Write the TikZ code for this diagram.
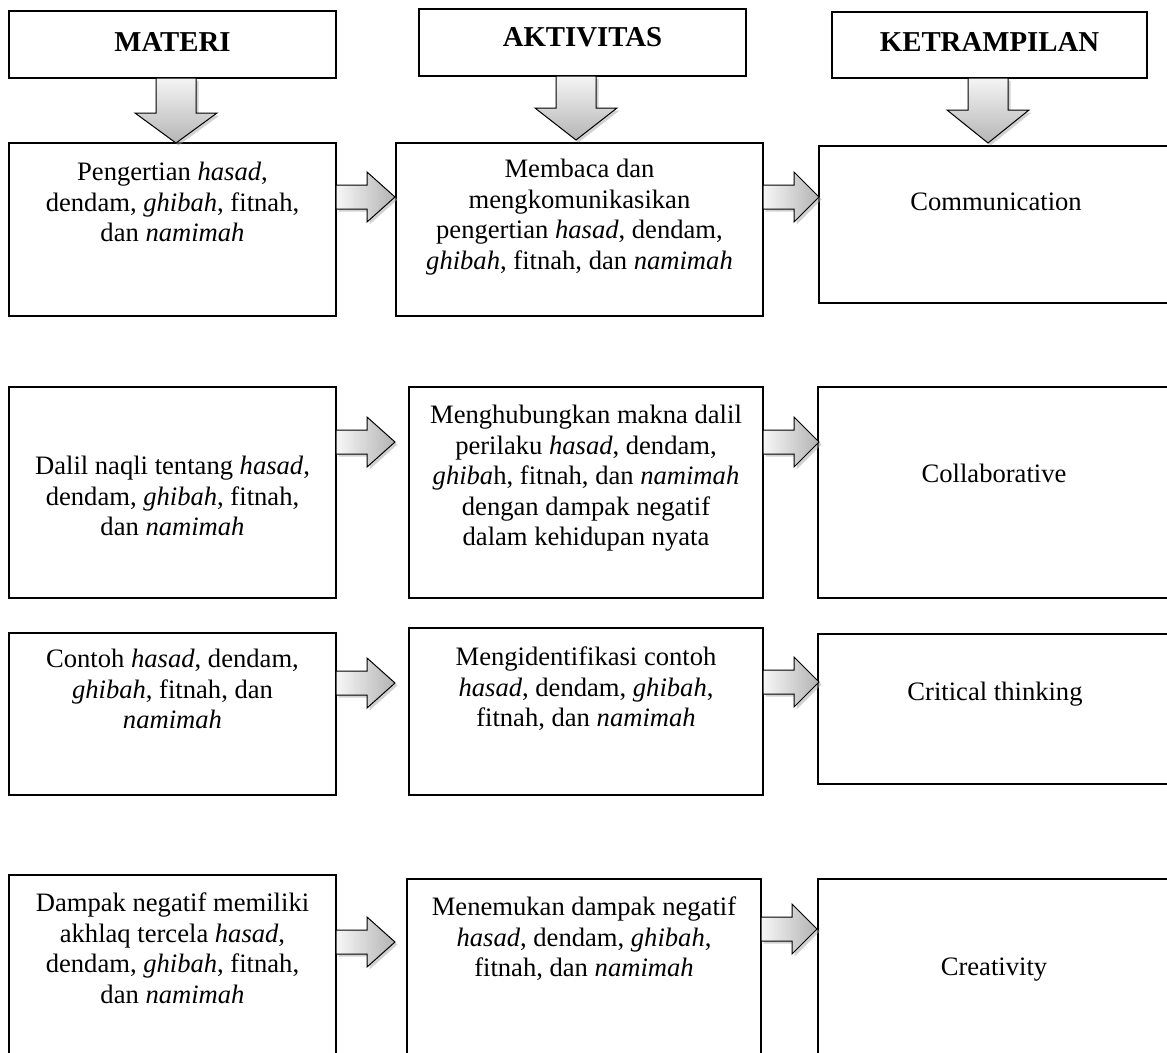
\documentclass[tikz,border=0pt]{standalone}
\usepackage{fontspec}
\setmainfont{Liberation Serif}
\usetikzlibrary{shadows}
\tikzset{
  frame/.style={draw=black, line width=1.8, inner sep=0, outer sep=0, fill=white},
  txt/.style={inner sep=0, align=center, font=\fontsize{26.6}{30.5}\selectfont},
  headtxt/.style={inner sep=0, font=\fontsize{28.8}{32}\selectfont\bfseries},
  harrow/.style={draw=black, line width=1, left color=gray!6, right color=gray!60,
    drop shadow={shadow xshift=2.5pt, shadow yshift=-2.5pt, fill=gray!70, opacity=.5}},
  varrow/.style={draw=black, line width=1, top color=gray!8, bottom color=gray!58,
    drop shadow={shadow xshift=2.5pt, shadow yshift=-2.5pt, fill=gray!70, opacity=.5}},
}
% box: name, x1, y1, x2, y2
\newcommand\bx[5]{\node[frame, minimum width={#4-#2}, minimum height={#5-#3}] (#1) at ({(#2+#4)/2},{(#3+#5)/2}) {};}
% text: name, box, top y, text
\newcommand\tx[4]{\node[txt, anchor=north] (#1) at (#2.center |- 0,#3) {#4};}
% right block arrow: from box, length to tip, y
\newcommand\rarr[3]{\path[harrow, shift={(#1.east |- 0,#3)}] (0,-12) -- (31,-12) -- (31,-25) -- (#2,0) -- (31,25) -- (31,12) -- (0,12) -- cycle;}
% down block arrow: from header, xshift, head start, tip
\newcommand\darr[4]{\path[varrow, shift={(#1.south)}, xshift=#2] (-20,0) -- (-20,#3) -- (-41,#3) -- (0,#4) -- (41,#3) -- (20,#3) -- (20,0) -- cycle;}
\begin{document}
\begin{tikzpicture}[x=1pt, y=-1pt]
\useasboundingbox (0,0) rectangle (1167,1052);
% headers
\bx{h1}{9}{11}{336}{78}
\bx{h2}{419}{9}{746}{76}
\bx{h3}{832}{12}{1147}{78}
\node[headtxt, anchor=north] (ht1) at (h1.center |- 0,32) {MATERI};
\node[headtxt, anchor=north] (ht2) at (h2.center |- 0,27) {AKTIVITAS};
\node[headtxt, anchor=north] (ht3) at (h3.center |- 0,32) {KETRAMPILAN};
% rows
\bx{r1a}{9}{143}{336}{316}
\bx{r1b}{396}{143}{763}{316}
\bx{r1c}{819}{146}{1173}{303}
\bx{r2a}{9}{387}{336}{598}
\bx{r2b}{409}{387}{763}{598}
\bx{r2c}{818}{387}{1173}{598}
\bx{r3a}{9}{633}{336}{795}
\bx{r3b}{409}{628}{763}{795}
\bx{r3c}{818}{634}{1173}{784}
\bx{r4a}{9}{875}{336}{1065}
\bx{r4b}{407}{879}{761}{1065}
\bx{r4c}{818}{879}{1173}{1065}
% texts
\tx{t1a}{r1a}{162}{Pengertian \textit{hasad},\\dendam, \textit{ghibah}, fitnah,\\dan \textit{namimah}}
\tx{t1b}{r1b}{159}{Membaca dan\\mengkomunikasikan\\pengertian \textit{hasad}, dendam,\\\textit{ghibah}, fitnah, dan \textit{namimah}}
\node[txt, anchor=north] (t1c) at (996,193) {Communication};
\tx{t2a}{r2a}{456}{Dalil naqli tentang \textit{hasad},\\dendam, \textit{ghibah}, fitnah,\\dan \textit{namimah}}
\tx{t2b}{r2b}{405}{Menghubungkan makna dalil\\perilaku \textit{hasad}, dendam,\\\textit{ghiba}h, fitnah, dan \textit{namimah}\\dengan dampak negatif\\dalam kehidupan nyata}
\node[txt, anchor=north] (t2c) at (994,464) {Collaborative};
\tx{t3a}{r3a}{649}{Contoh \textit{hasad}, dendam,\\\textit{ghibah}, fitnah, dan\\\textit{namimah}}
\tx{t3b}{r3b}{647}{Mengidentifikasi contoh\\\textit{hasad}, dendam, \textit{ghibah},\\fitnah, dan \textit{namimah}}
\node[txt, anchor=north] (t3c) at (995,682) {Critical thinking};
\tx{t4a}{r4a}{893}{Dampak negatif memiliki\\akhlaq tercela \textit{hasad},\\dendam, \textit{ghibah}, fitnah,\\dan \textit{namimah}}
\tx{t4b}{r4b}{897}{Menemukan dampak negatif\\\textit{hasad}, dendam, \textit{ghibah},\\fitnah, dan \textit{namimah}}
\node[txt, anchor=north] (t4c) at (994,958) {Creativity};
% down arrows
\darr{h1}{3.5}{35}{65}
\darr{h2}{-6.5}{32}{64}
\darr{h3}{-1.5}{32}{65}
% right arrows
\rarr{r1a}{59}{197}
\rarr{r1b}{56}{197}
\rarr{r2a}{59}{442}
\rarr{r2b}{56}{442}
\rarr{r3a}{59}{683}
\rarr{r3b}{56}{682}
\rarr{r4a}{59}{942}
\rarr{r4b}{56}{929}
\end{tikzpicture}
\end{document}
